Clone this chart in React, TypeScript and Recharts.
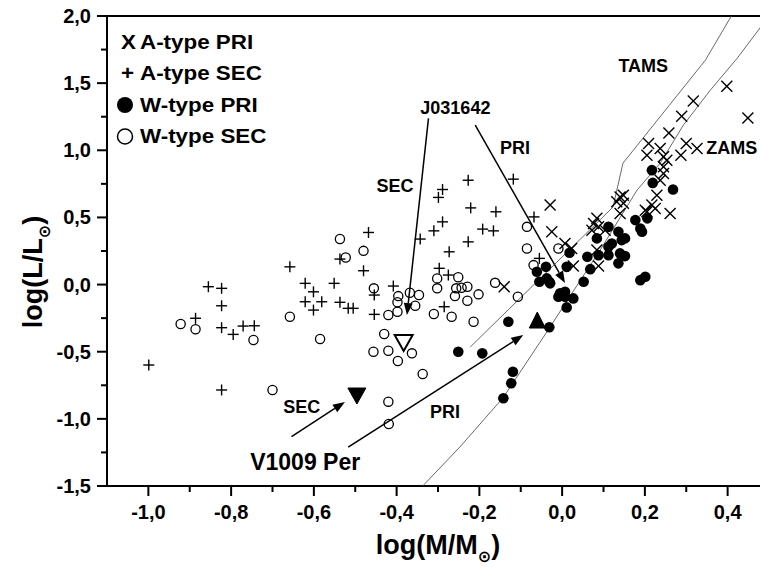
import React from 'react';
import { ScatterChart, Scatter, XAxis, YAxis, ReferenceLine, ReferenceDot, Legend } from 'recharts';

const FONT = '"Liberation Sans", Arial, Helvetica, sans-serif';

// ---------- axis ticks ----------
const xTicks = [-1.0, -0.9, -0.8, -0.7, -0.6, -0.5, -0.4, -0.3, -0.2, -0.1, 0.0, 0.1, 0.2, 0.3, 0.4];
const xLabelTicks = [-1.0, -0.8, -0.6, -0.4, -0.2, 0.0, 0.2, 0.4];
const yTicks = [-1.5, -1.25, -1.0, -0.75, -0.5, -0.25, 0.0, 0.25, 0.5, 0.75, 1.0, 1.25, 1.5, 1.75, 2.0];
const yLabelTicks = [-1.5, -1.0, -0.5, 0.0, 0.5, 1.0, 1.5, 2.0];
const xDomain = [-1.1, 0.5];
const yDomain = [-1.5, 2.0];

// ---------- series ----------
const aTypePri = [
  [-0.029, 0.592], [-0.025, 0.393], [-0.140, -0.016], [0.007, 0.306], [0.023, 0.269], [0.027, 0.138],
  [0.088, 0.138], [0.084, 0.493], [0.076, 0.455], [0.088, 0.430], [0.072, 0.405], [0.084, 0.257],
  [0.104, 0.405], [0.132, 0.616], [0.148, 0.666], [0.140, 0.530], [0.205, 0.542], [0.217, 0.592],
  [0.229, 0.666], [0.225, 0.567], [0.261, 0.530], [0.398, 1.477], [0.449, 1.241], [0.317, 1.367],
  [0.289, 1.254], [0.258, 1.129], [0.209, 1.050], [0.205, 0.963], [0.237, 1.013], [0.245, 0.951],
  [0.300, 1.050], [0.287, 0.963], [0.326, 1.013], [0.253, 0.926], [0.245, 0.877], [0.245, 0.827],
  [0.237, 0.777], [0.148, 0.605], [0.201, 0.554], [0.140, 0.653],
];

const aTypeSec = [
  [-0.658, 0.132], [-0.855, -0.016], [-0.823, -0.028], [-0.823, -0.158], [-0.886, -0.251], [-0.823, -0.321],
  [-0.795, -0.371], [-0.771, -0.309], [-0.744, -0.307], [-0.999, -0.599], [-0.823, -0.785], [-0.227, 0.777],
  [-0.289, 0.708], [-0.299, 0.649], [-0.221, 0.571], [-0.289, 0.467], [-0.310, 0.400], [-0.343, 0.339],
  [-0.227, 0.318], [-0.273, 0.244], [-0.468, 0.388], [-0.537, 0.190], [-0.480, 0.103], [-0.621, 0.009],
  [-0.601, -0.054], [-0.551, 0.009], [-0.621, -0.128], [-0.581, -0.128], [-0.601, -0.190], [-0.537, -0.132],
  [-0.517, -0.177], [-0.505, -0.177], [-0.454, -0.078], [-0.408, -0.011], [-0.454, -0.222], [-0.297, 0.121],
  [-0.275, 0.071], [-0.285, -0.165], [-0.118, 0.785], [-0.160, 0.542], [-0.192, 0.413], [-0.166, 0.400],
  [-0.068, 0.504], [-0.055, 0.195],
];

const wTypePri = [
  [-0.251, -0.500], [-0.193, -0.512], [-0.119, -0.649], [-0.123, -0.735], [-0.142, -0.847], [-0.130, -0.277],
  [-0.031, -0.318], [-0.061, 0.095], [-0.039, 0.132], [-0.055, 0.021], [-0.037, 0.046], [-0.029, 0.009],
  [-0.009, -0.091], [0.007, -0.054], [0.027, -0.103], [0.011, -0.170], [0.018, 0.237], [0.011, 0.132],
  [0.052, 0.021], [0.061, 0.207], [0.068, 0.115], [0.084, 0.344], [0.112, 0.430], [0.088, 0.219],
  [0.112, 0.219], [0.112, 0.281], [0.120, 0.306], [0.136, 0.158], [0.152, 0.212], [0.140, 0.232],
  [0.144, 0.331], [0.152, 0.344], [0.136, 0.393], [0.177, 0.480], [0.189, 0.418], [0.193, 0.393],
  [0.206, 0.493], [0.189, 0.033], [0.201, 0.058], [0.217, 0.852], [0.219, 0.757], [0.268, 0.708],
  [-0.031, 0.021], [0.007, -0.091], [-0.005, -0.065],
];

const wTypeSec = [
  [-0.922, -0.294], [-0.886, -0.333], [-0.746, -0.413], [-0.658, -0.240], [-0.700, -0.785], [-0.585, -0.405],
  [-0.537, 0.339], [-0.480, 0.251], [-0.523, 0.202], [-0.455, -0.028], [-0.396, -0.086], [-0.368, -0.061],
  [-0.346, -0.078], [-0.398, -0.132], [-0.355, -0.158], [-0.420, -0.227], [-0.398, -0.202], [-0.302, 0.046],
  [-0.302, -0.028], [-0.251, 0.054], [-0.256, -0.028], [-0.243, -0.024], [-0.229, -0.016], [-0.259, -0.086],
  [-0.229, -0.121], [-0.310, -0.219], [-0.267, -0.240], [-0.214, -0.277], [-0.202, -0.073], [-0.430, -0.368],
  [-0.456, -0.500], [-0.420, -0.493], [-0.397, -0.569], [-0.363, -0.512], [-0.337, -0.666], [-0.420, -0.872],
  [-0.419, -1.038], [-0.162, 0.013], [-0.107, -0.091], [-0.085, 0.430], [-0.085, 0.269], [-0.009, 0.269],
  [-0.069, 0.145],
];

const v1009Sec = [[-0.496, -0.830]];
const v1009Pri = [[-0.060, -0.264]];
const j031642Sec = [[-0.383, -0.435]];

const tamsLine = [
  [-0.222, -0.465], [0.123, 0.577], [0.147, 0.904], [0.346, 1.670], [0.409, 2.0],
];
const zamsLine = [
  [-0.337, -1.5], [-0.247, -1.209], [-0.143, -0.844], [-0.034, -0.339], [0.024, -0.063], [0.092, 0.257],
  [0.181, 0.703], [0.237, 0.904], [0.293, 1.187], [0.358, 1.447], [0.423, 1.685], [0.5, 2.0],
];

const textLabels = [
  { x: 0.196, y: 1.633, text: 'TAMS', size: 18 },
  { x: 0.410, y: 1.023, text: 'ZAMS', size: 18 },
  { x: -0.258, y: 1.317, text: 'J031642', size: 18 },
  { x: -0.114, y: 1.023, text: 'PRI', size: 18 },
  { x: -0.404, y: 0.740, text: 'SEC', size: 18 },
  { x: -0.629, y: -0.911, text: 'SEC', size: 18 },
  { x: -0.283, y: -0.949, text: 'PRI', size: 18 },
  { x: -0.621, y: -1.321, text: 'V1009 Per', size: 23 },
];

const arrows = [
  { x1: -0.323, y1: 1.238, x2: -0.375, y2: -0.227 },
  { x1: -0.210, y1: 1.187, x2: 0.007, y2: 0.011 },
  { x1: -0.654, y1: -1.132, x2: -0.525, y2: -0.874 },
  { x1: -0.517, y1: -1.211, x2: -0.094, y2: -0.376 },
];

const legendItems = ['A-type PRI', 'A-type SEC', 'W-type PRI', 'W-type SEC'];

const toPts = (arr: number[][]) => arr.map(([x, y]) => ({ x, y }));
const fmt = (v: number) => (Math.abs(v) < 1e-9 ? 0 : v).toFixed(1).replace('.', ',');
const isIn = (list: number[], v: number) => list.some((t) => Math.abs(t - v) < 1e-6);

// ---------- shapes ----------
const XMark = (p: any) => {
  const { cx, cy } = p;
  const s = 5.5;
  return (
    <g stroke="#000" strokeWidth={1.4}>
      <line x1={cx - s} y1={cy - s} x2={cx + s} y2={cy + s} />
      <line x1={cx - s} y1={cy + s} x2={cx + s} y2={cy - s} />
    </g>
  );
};
const PlusMark = (p: any) => {
  const { cx, cy } = p;
  const s = 5.5;
  return (
    <g stroke="#000" strokeWidth={1.4}>
      <line x1={cx - s} y1={cy} x2={cx + s} y2={cy} />
      <line x1={cx} y1={cy - s} x2={cx} y2={cy + s} />
    </g>
  );
};
const FilledDot = (p: any) => <circle cx={p.cx} cy={p.cy} r={5.3} fill="#000" />;
const OpenDot = (p: any) => <circle cx={p.cx} cy={p.cy} r={4.6} fill="none" stroke="#000" strokeWidth={1.3} />;
const DownTri = (filled: boolean) => (p: any) => {
  const { cx, cy } = p;
  const w = 9, h = 8;
  return (
    <polygon
      points={`${cx - w},${cy - h} ${cx + w},${cy - h} ${cx},${cy + h}`}
      fill={filled ? '#000' : '#fff'}
      stroke="#000"
      strokeWidth={filled ? 1 : 2}
    />
  );
};
const UpTri = (p: any) => {
  const { cx, cy } = p;
  const w = 8, h = 8;
  return <polygon points={`${cx - w},${cy + h} ${cx + w},${cy + h} ${cx},${cy - h}`} fill="#000" stroke="#000" />;
};
const NoShape = () => <g />;

const ArrowShape = (p: any) => {
  const { x1, y1, x2, y2 } = p;
  const ang = Math.atan2(y2 - y1, x2 - x1);
  const L = 12, W = 4.5;
  const bx = x2 - L * Math.cos(ang);
  const by = y2 - L * Math.sin(ang);
  const pts = `${x2},${y2} ${bx + W * Math.sin(ang)},${by - W * Math.cos(ang)} ${bx - W * Math.sin(ang)},${by + W * Math.cos(ang)}`;
  return (
    <g>
      <line x1={x1} y1={y1} x2={bx} y2={by} stroke="#000" strokeWidth={1.5} />
      <polygon points={pts} fill="#000" />
    </g>
  );
};

const labelShape = (text: string, size: number) => (p: any) => (
  <text x={p.cx} y={p.cy} dy="0.36em" textAnchor="middle" fontFamily={FONT} fontWeight="bold" fontSize={size} fill="#000">
    {text}
  </text>
);

const XTick = (props: any) => {
  const { x, y, payload } = props;
  const v = payload.value;
  const major = isIn(xLabelTicks, v);
  return (
    <g>
      <line x1={x} y1={y} x2={x} y2={y + (major ? 10 : 6)} stroke="#000" strokeWidth={2} />
      {major && (
        <text x={x} y={y + 33} textAnchor="middle" fontFamily={FONT} fontWeight="bold" fontSize={20} fill="#000">
          {fmt(v)}
        </text>
      )}
    </g>
  );
};

const YTick = (props: any) => {
  const { x, y, payload } = props;
  const v = payload.value;
  const major = isIn(yLabelTicks, v);
  return (
    <g>
      <line x1={x - (major ? 10 : 6)} y1={y} x2={x} y2={y} stroke="#000" strokeWidth={2} />
      {major && (
        <text x={x - 16} y={y + 7} textAnchor="end" fontFamily={FONT} fontWeight="bold" fontSize={20} fill="#000">
          {fmt(v)}
        </text>
      )}
    </g>
  );
};

const XTitle = (props: any) => {
  const vb = props.viewBox || {};
  const cx = vb.x + vb.width / 2;
  return (
    <text x={cx} y={vb.y + 68} textAnchor="middle" fontFamily={FONT} fontWeight="bold" fontSize={27} fill="#000">
      log(M/M<tspan fontSize={16} dy={8} fontFamily="DejaVu Sans">⊙</tspan>
      <tspan dy={-8}>)</tspan>
    </text>
  );
};

const YTitle = () => (
  <text transform="translate(42,272) rotate(-90)" textAnchor="middle" fontFamily={FONT} fontWeight="bold" fontSize={27} fill="#000">
    log(L/L<tspan fontSize={16} dy={8} fontFamily="DejaVu Sans">⊙</tspan>
    <tspan dy={-8}>)</tspan>
  </text>
);

const LegendText = ({ x, y, children }: any) => (
  <text transform={`translate(${x},${y}) scale(1.12,1)`} fontFamily={FONT} fontWeight="bold" fontSize={20} fill="#000">
    {children}
  </text>
);

const LegendBox = () => {
  const base = [28.5, 60, 91.5, 123];
  return (
    <svg width={200} height={140} style={{ display: 'block' }}>
      {legendItems.map((t, i) => (
        <g key={t}>
          {i === 0 && <LegendText x={11} y={base[i]}>X</LegendText>}
          {i === 1 && <LegendText x={11} y={base[i]}>+</LegendText>}
          {i === 2 && <circle cx={15} cy={base[i] - 6.5} r={8} fill="#000" />}
          {i === 3 && <circle cx={15} cy={base[i] - 6.5} r={7.5} fill="none" stroke="#000" strokeWidth={1.5} />}
          <LegendText x={30} y={base[i]}>{t}</LegendText>
        </g>
      ))}
    </svg>
  );
};

export default function App() {
  return (
    <div style={{ position: 'absolute', left: 0, top: 0, width: 760, height: 573, overflow: 'hidden', background: '#fff' }}>
      <ScatterChart width={770} height={573} margin={{ top: 16, right: 1, bottom: 0, left: 0 }}>
        <XAxis
          type="number"
          dataKey="x"
          domain={xDomain}
          ticks={xTicks}
          interval={0}
          tick={<XTick />}
          tickLine={false}
          tickSize={0}
          tickMargin={0}
          height={87}
          axisLine={{ stroke: '#000', strokeWidth: 2 }}
          label={<XTitle />}
        />
        <YAxis
          type="number"
          dataKey="y"
          domain={yDomain}
          ticks={yTicks}
          interval={0}
          tick={<YTick />}
          tickLine={false}
          tickSize={0}
          tickMargin={0}
          width={107}
          axisLine={{ stroke: '#000', strokeWidth: 2 }}
          label={<YTitle />}
        />
        <ReferenceLine y={2} stroke="#000" strokeWidth={2} />
        <Legend
          layout="vertical"
          align="center"
          verticalAlign="middle"
          content={<LegendBox />}
          wrapperStyle={{ left: 110, top: 20, width: 200, height: 140 }}
        />
        <Scatter data={toPts(tamsLine)} line={{ stroke: '#444', strokeWidth: 0.8 }} shape={NoShape} legendType="none" isAnimationActive={false} />
        <Scatter data={toPts(zamsLine)} line={{ stroke: '#444', strokeWidth: 0.8 }} shape={NoShape} legendType="none" isAnimationActive={false} />
        <Scatter name="W-type SEC" data={toPts(wTypeSec)} shape={OpenDot} isAnimationActive={false} />
        <Scatter name="A-type SEC" data={toPts(aTypeSec)} shape={PlusMark} isAnimationActive={false} />
        <Scatter name="W-type PRI" data={toPts(wTypePri)} shape={FilledDot} isAnimationActive={false} />
        <Scatter name="A-type PRI" data={toPts(aTypePri)} shape={XMark} isAnimationActive={false} />
        <Scatter data={toPts(j031642Sec)} shape={DownTri(false)} legendType="none" isAnimationActive={false} />
        <Scatter data={toPts(v1009Sec)} shape={DownTri(true)} legendType="none" isAnimationActive={false} />
        <Scatter data={toPts(v1009Pri)} shape={UpTri} legendType="none" isAnimationActive={false} />
        {arrows.map((a, i) => (
          <ReferenceLine key={'ar' + i} segment={[{ x: a.x1, y: a.y1 }, { x: a.x2, y: a.y2 }]} shape={ArrowShape} />
        ))}
        {textLabels.map((l, i) => (
          <ReferenceDot key={'lb' + i} x={l.x} y={l.y} r={0} shape={labelShape(l.text, l.size)} />
        ))}
      </ScatterChart>
    </div>
  );
}
